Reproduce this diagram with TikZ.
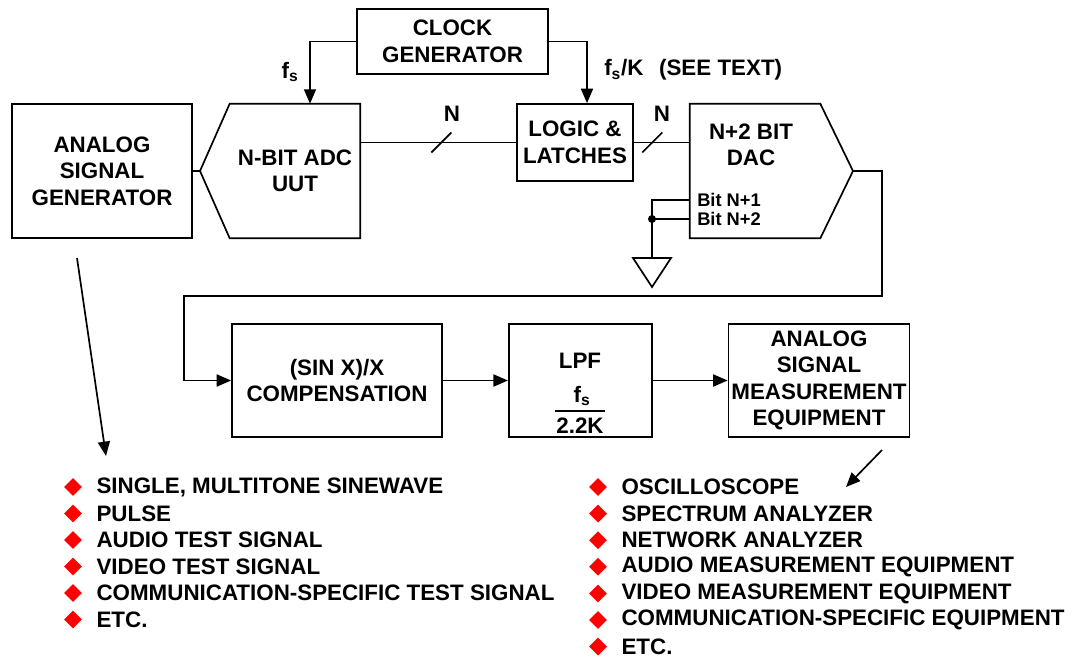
\documentclass[tikz,border=0pt]{standalone}
\usepackage{fontspec}
\setmainfont{Liberation Sans}
\usepackage{tikz}
\usetikzlibrary{shapes.geometric, arrows.meta, positioning, calc}
\definecolor{cBullet}{RGB}{255,0,0}
\tikzset{
	blk/.style   ={rectangle, draw=black, line width=1.2pt, align=center, inner sep=2pt},
	shell/.style ={rectangle, draw=none, align=center, inner sep=2pt},
	wire/.style  ={line width=1.2pt},
	sig/.style   ={-{Triangle[length=3.6mm, width=3mm]}, line width=1.2pt},
	bitlbl/.style={anchor=west, inner sep=0pt, font=\bfseries\fontsize{13}{15}\selectfont},
	% bullet lists
	bullet/.style={diamond, fill=cBullet, minimum size=0.45cm, inner sep=0pt},
	item/.style  ={inner sep=0pt},
}
\begin{document}
\begin{tikzpicture}[x=0.025cm, y=-0.025cm, font=\bfseries\fontsize{15.9}{18.8}\selectfont]
	\useasboundingbox (0,0) rectangle (1072,658);
	% top row
	\node[blk, minimum width=4.5cm, minimum height=3.35cm] (gen) at (102,171) {ANALOG\\SIGNAL\\GENERATOR};
	\node[shell, minimum width=3.25cm, minimum height=3.35cm] (adc) at (295,171) {N-BIT ADC\\UUT};
	\coordinate (adcpt) at (200,171);
	\draw[wire] (adc.north east) -- (adc.north west) -- (adcpt) -- (adc.south west) -- (adc.south east) -- cycle;
	\node[blk, minimum width=4.775cm, minimum height=1.625cm] (clk) at (452.5,41.5) {CLOCK\\GENERATOR};
	\node[blk, minimum width=2.9cm, minimum height=1.925cm] (logic) at (575,142.5) {LOGIC \&\\LATCHES};
	\node[shell, minimum width=3.25cm, minimum height=3.35cm] (dac) at (755,171) {};
	\coordinate (dacpt) at (853,171);
	\draw[wire] (dac.north west) -- (dac.north east) -- (dacpt) -- (dac.south east) -- (dac.south west) -- cycle;
	\node[align=center] (dactxt) at (751,145) {N+2 BIT\\DAC};
	\node[bitlbl] (bit1) at (697,200) {Bit N+1};
	\node[bitlbl] (bit2) at (697,219) {Bit N+2};
	% clock lines
	\draw[sig] (clk.west) -| ($(adc.north)+(15,0)$);
	\node (fs) at (290,72) {f\textsubscript{s}};
	\draw[sig] (clk.east) -| ($(logic.north)+(12,0)$);
	\node[anchor=west, inner sep=0pt] (fsk) at (604,70) {f\textsubscript{s}/K\hspace{0.7em}(SEE TEXT)};
	% data path
	\draw[wire] (gen.east) -- (adcpt);
	\draw[wire] (adc.east |- logic.west) -- coordinate[pos=0.52] (bus1) (logic.west);
	\draw[wire] ($(bus1)+(-10,10)$) -- ($(bus1)+(10,-10)$);
	\node (n1) at (452,114) {N};
	\draw[wire] (logic.east) -- coordinate[pos=0.33] (bus2) (dac.west |- logic.east);
	\draw[wire] ($(bus2)+(-10,10)$) -- ($(bus2)+(10,-10)$);
	\node (n2) at (662,114) {N};
	% extra dac bits to ground
	\coordinate (gnd) at (652,258);
	\coordinate (gj) at (652,219);
	\draw[wire] (dac.west |- bit1.west) -| (gnd);
	\draw[wire] (dac.west |- bit2.west) -- (gj);
	\fill (gj) circle (0.1cm);
	\draw[wire] (gnd) -- ++(-19,0) -- ++(19,29) -- ++(19,-29) -- cycle;
	% bottom row
	\node[blk, minimum width=5.25cm, minimum height=2.825cm] (comp) at (337,380.5) {(SIN X)/X\\COMPENSATION};
	\node[blk, minimum width=3.575cm, minimum height=2.825cm, right=1.625cm of comp] (lpf) {};
	\node[blk, minimum width=4.525cm, minimum height=2.825cm, right=1.875cm of lpf] (meas) {ANALOG\\SIGNAL\\MEASUREMENT\\EQUIPMENT};
	\node (lpft) at (580,361) {LPF};
	\node (lpfn) at (582,396) {f\textsubscript{s}};
	\node (lpfd) at (580,426) {2.2K};
	\draw[wire] ($(lpfd.north)+(-25,-2)$) -- ($(lpfd.north)+(25,-2)$);
	\draw[sig] (dacpt) -- ++(29,0) |- ++(-698,125) |- (comp.west);
	\draw[sig] (comp) -- (lpf);
	\draw[sig] (lpf) -- (meas);
	% pointers to lists
	\coordinate (gs) at (77,258);
	\coordinate (ge) at (106,456);
	\draw[sig] (gs) -- (ge);
	\coordinate (ms) at (882,450);
	\coordinate (me) at (846,487);
	\draw[sig] (ms) -- (me);
	% lists
	\foreach \txt [count=\i from 0] in {{SINGLE, MULTITONE SINEWAVE}, PULSE, AUDIO TEST SIGNAL, VIDEO TEST SIGNAL, COMMUNICATION-SPECIFIC TEST SIGNAL, ETC.}{
		\node[bullet] (lb\i) at (73,487+26.5*\i) {};
		\node[item, right=0.35cm of lb\i] (li\i) {\txt};
	}
	\foreach \txt [count=\i from 0] in {OSCILLOSCOPE, SPECTRUM ANALYZER, NETWORK ANALYZER, AUDIO MEASUREMENT EQUIPMENT, VIDEO MEASUREMENT EQUIPMENT, COMMUNICATION-SPECIFIC EQUIPMENT, ETC.}{
		\node[bullet] (rb\i) at (598,487+26.6*\i) {};
		\node[item, right=0.35cm of rb\i] (ri\i) {\txt};
	}
\end{tikzpicture}
\end{document}
